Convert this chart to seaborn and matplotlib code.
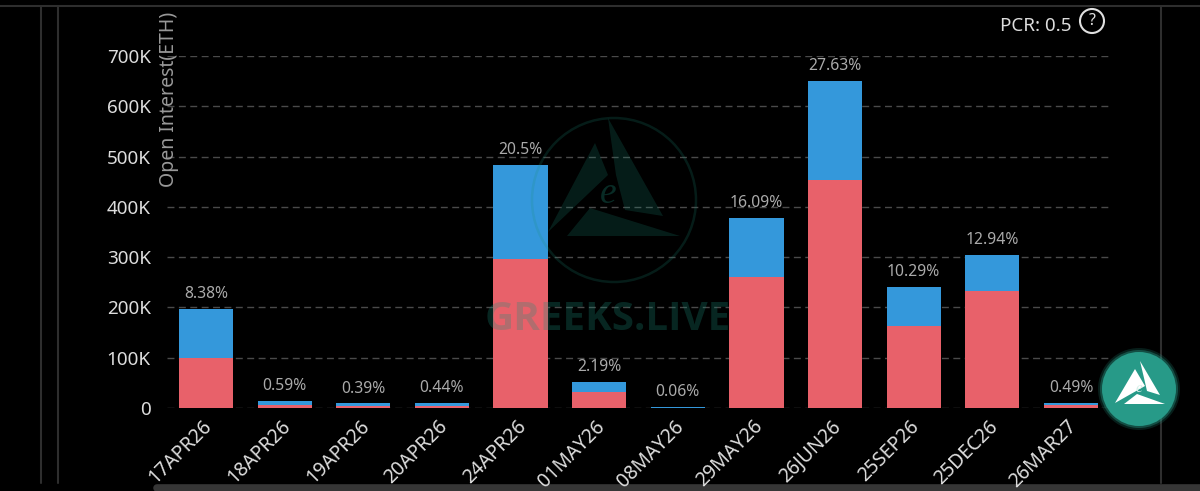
import matplotlib
matplotlib.use("Agg")
import matplotlib.pyplot as plt
from matplotlib.patches import Circle, Polygon
from matplotlib.transforms import ScaledTranslation
import pandas as pd
import seaborn as sns

expiries = ["17APR26", "18APR26", "19APR26", "20APR26", "24APR26", "01MAY26",
            "08MAY26", "29MAY26", "26JUN26", "25SEP26", "25DEC26", "26MAR27"]
puts = [100, 5, 4, 4, 296, 32, 0.6, 261, 453, 163, 233, 5]
calls = [97, 9, 5, 6, 187, 20, 0.9, 117, 197, 78, 71, 5]
shares = ["8.38%", "0.59%", "0.39%", "0.44%", "20.5%", "2.19%",
          "0.06%", "16.09%", "27.63%", "10.29%", "12.94%", "0.49%"]
y_ticks = [0, 100, 200, 300, 400, 500, 600, 700]
y_tick_labels = ["0", "100K", "200K", "300K", "400K", "500K", "600K", "700K"]

sns.set_theme(style="dark", rc={"figure.facecolor": "black", "axes.facecolor": "none",
                                "savefig.facecolor": "black"})
plt.rcParams["font.family"] = ["Noto Sans", "DejaVu Sans"]

df = pd.DataFrame({"expiry": expiries, "put": puts, "call": calls})
df["total"] = df["put"] + df["call"]

W, H = 1200, 491
fig = plt.figure(figsize=(12, 4.91), dpi=100)

# pixel space layer for the app frame, watermark and logo
bg = fig.add_axes([0, 0, 1, 1], zorder=0)
bg.set_xlim(0, W)
bg.set_ylim(H, 0)
bg.axis("off")
frame = "#2e2e2e"
bg.plot([0, W], [5.5, 5.5], color=frame, lw=1.5)
for x in [41, 58, 1161]:
    bg.plot([x, x], [5.5, 483], color=frame, lw=1.5)
bg.plot([157, W + 10], [487.5, 487.5], color="#363636", lw=5.5, solid_capstyle="round")

ax = fig.add_axes([166.7 / W, (H - 408) / H, (1110.3 - 166.7) / W, 352 / H], zorder=1)
sns.barplot(data=df, x="expiry", y="total", color="#3498db", saturation=1, width=0.69,
            linewidth=0, ax=ax, zorder=3)
sns.barplot(data=df, x="expiry", y="put", color="#e8616a", saturation=1, width=0.69,
            linewidth=0, ax=ax, zorder=4)

ax.set_xlim(-0.5, 11.5)
ax.set_ylim(0, 700)
ax.set_yticks(y_ticks, y_tick_labels)
ax.set_xlabel("")
ax.set_ylabel("")
ax.grid(axis="y", color="#4a4a4a", lw=1, linestyle=(0, (5, 3.2)), zorder=1)
ax.grid(axis="x", visible=False)
ax.set_axisbelow(True)
sns.despine(ax=ax, left=True, bottom=True)
ax.tick_params(axis="y", length=0, pad=11.5, labelsize=13.6, labelcolor="#dddddd")
ax.tick_params(axis="x", length=0, pad=4, labelsize=14, labelcolor="#dddddd")
nudge = ScaledTranslation(-4 / 100, -3 / 100, fig.dpi_scale_trans)
for lab in ax.get_xticklabels():
    lab.set_rotation(45)
    lab.set_ha("right")
    lab.set_rotation_mode("anchor")
    lab.set_clip_on(False)
    lab.set_transform(lab.get_transform() + nudge)

for i, share in enumerate(shares):
    ax.annotate(share, (i, df["total"][i]), xytext=(0, 5), textcoords="offset points",
                ha="center", va="bottom", fontsize=11.3, color="#aaaaaa", zorder=6)

# overlay on top of the bars
top = fig.add_axes([0, 0, 1, 1], zorder=2)
top.set_xlim(0, W)
top.set_ylim(H, 0)
top.axis("off")
mark = "#1c8f7c"
top.add_patch(Circle((614, 200), 82, fill=False, ec=mark, lw=1.8, alpha=0.2))
for tri in [[(595, 143), (608, 175), (548, 232)],
            [(608, 118), (663, 216), (625, 210), (616, 175)],
            [(590, 208), (680, 236), (567, 236)]]:
    top.add_patch(Polygon(tri, closed=True, fc=mark, ec="none", alpha=0.2))
top.text(608, 194, "e", color=mark, alpha=0.3, fontsize=27, style="italic", family="Liberation Serif",
         ha="center", va="center")
top.text(608, 320, "GREEKS.LIVE", color=mark, alpha=0.27, fontsize=29, weight="bold",
         family="Open Sans", ha="center", va="center")

top.text(169, 99.5, "Open Interest(ETH)", color="#999999", fontsize=14, rotation=90, ha="center", va="center")
top.text(1071, 26, "PCR: 0.5", color="#dddddd", fontsize=13.5, ha="right", va="center")
top.add_patch(Circle((1092, 21), 12, fill=False, ec="#e0e0e0", lw=1.5))
top.text(1092, 21, "?", color="#e0e0e0", fontsize=11.5, ha="center", va="center")

# floating logo button
top.add_patch(Circle((1139, 389), 41, fc="#2aa893", ec="none", alpha=0.18))
top.add_patch(Circle((1139, 389), 39, fc="#2aa893", ec="none", alpha=0.35))
top.add_patch(Circle((1139, 389), 37, fc="#279a88", ec="none"))
for tri in [[(1135, 369), (1145, 386), (1115, 403)],
            [(1140, 361), (1160, 395), (1147, 391), (1144, 378)],
            [(1137, 394), (1165, 404), (1124, 404)]]:
    top.add_patch(Polygon(tri, closed=True, fc="white", ec="none"))
top.text(1139, 389, "e", color="#d8efe9", fontsize=11, style="italic", family="Liberation Serif",
         ha="center", va="center")

fig.savefig("out.png", dpi=100)
